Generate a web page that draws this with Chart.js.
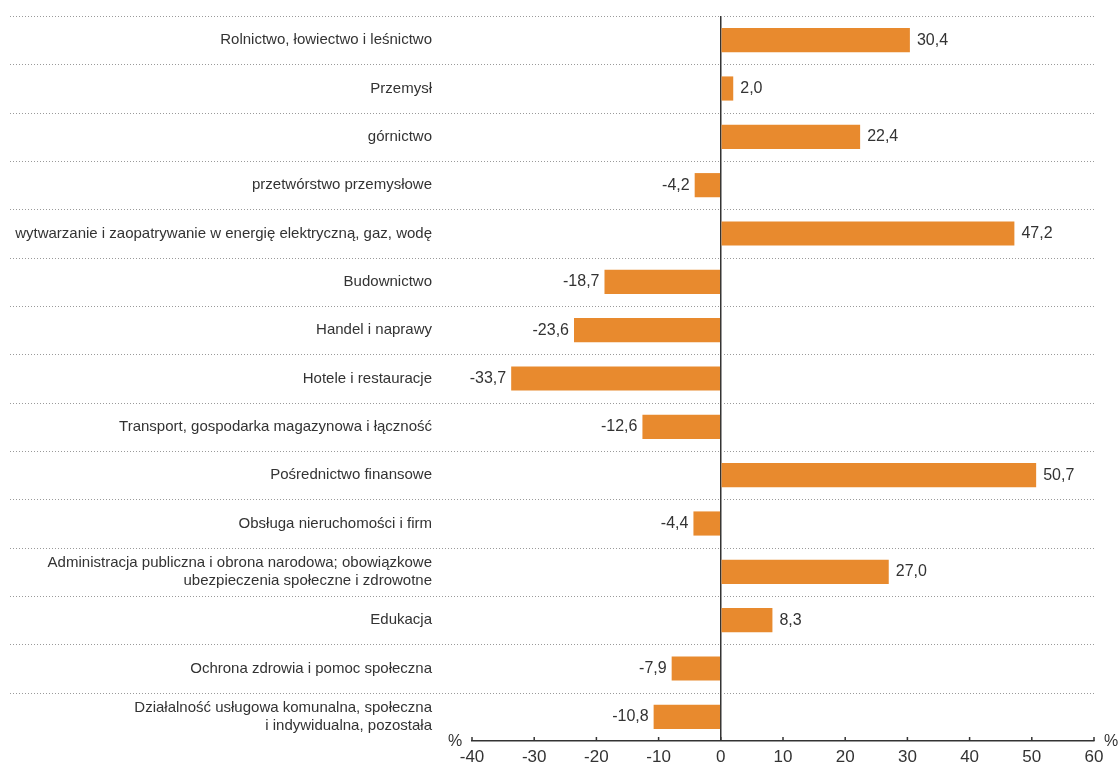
<!DOCTYPE html>
<html>
<head>
<meta charset="utf-8">
<script src="https://cdn.jsdelivr.net/npm/chart.js"></script>
<style>
    body { margin: 0; background: #fff; }
    .wrap { width: 1120px; height: 769px; }
</style>
</head>
<body>
<div class="wrap"><canvas id="chart" width="1120" height="769"></canvas></div>
<script>
// data
const categories = [
    'Rolnictwo, łowiectwo i leśnictwo',
    'Przemysł',
    'górnictwo',
    'przetwórstwo przemysłowe',
    'wytwarzanie i zaopatrywanie w energię elektryczną, gaz, wodę',
    'Budownictwo',
    'Handel i naprawy',
    'Hotele i restauracje',
    'Transport, gospodarka magazynowa i łączność',
    'Pośrednictwo finansowe',
    'Obsługa nieruchomości i firm',
    ['Administracja publiczna i obrona narodowa; obowiązkowe', 'ubezpieczenia społeczne i zdrowotne'],
    'Edukacja',
    'Ochrona zdrowia i pomoc społeczna',
    ['Działalność usługowa komunalna, społeczna', 'i indywidualna, pozostała']
];
const values = [30.4, 2.0, 22.4, -4.2, 47.2, -18.7, -23.6, -33.7, -12.6, 50.7, -4.4, 27.0, 8.3, -7.9, -10.8];
const xMin = -40, xMax = 60, xStep = 10;

const FONT = "'Liberation Sans', Arial, sans-serif";
const TEXT = '#333';
const BAR = '#E88A2E';

const fmt = v => v.toFixed(1).replace('.', ',');

// dotted separators, tick stubs, % labels, value labels
const extras = {
    id: 'extras',
    beforeDatasetsDraw(chart) {
        const { ctx, chartArea, scales: { y } } = chart;
        const band = y.getPixelForValue(1) - y.getPixelForValue(0);
        ctx.save();
        ctx.strokeStyle = '#9a9a9a';
        ctx.lineWidth = 1;
        ctx.setLineDash([1, 2]);
        for (let i = 0; i < categories.length; i++) {
            const py = Math.round(y.getPixelForValue(i) - band / 2) + 0.5;
            ctx.beginPath();
            ctx.moveTo(10, py);
            ctx.lineTo(chartArea.right, py);
            ctx.stroke();
        }
        ctx.restore();
    },
    afterDraw(chart) {
        const { ctx, chartArea, scales: { x } } = chart;
        ctx.save();
        ctx.strokeStyle = TEXT;
        ctx.lineWidth = 1.5;
        x.ticks.forEach(t => {
            const px = x.getPixelForValue(t.value);
            ctx.beginPath();
            ctx.moveTo(px, chartArea.bottom);
            ctx.lineTo(px, chartArea.bottom - 4);
            ctx.stroke();
        });
        ctx.fillStyle = TEXT;
        ctx.font = '16px ' + FONT;
        ctx.textBaseline = 'middle';
        ctx.textAlign = 'center';
        ctx.fillText('%', chartArea.left - 17, chartArea.bottom + 1);
        ctx.textAlign = 'left';
        ctx.fillText('%', chartArea.right + 10, chartArea.bottom + 1);

        const meta = chart.getDatasetMeta(0);
        ctx.font = '16px ' + FONT;
        meta.data.forEach((bar, i) => {
            const v = values[i];
            if (v >= 0) {
                ctx.textAlign = 'left';
                ctx.fillText(fmt(v), bar.x + 7, bar.y);
            } else {
                ctx.textAlign = 'right';
                ctx.fillText(fmt(v), bar.x - 5, bar.y);
            }
        });
        ctx.restore();
    }
};

new Chart(document.getElementById('chart'), {
    type: 'bar',
    data: {
        labels: categories,
        datasets: [{
            data: values,
            backgroundColor: BAR,
            borderWidth: 0,
            barPercentage: 0.5,
            categoryPercentage: 1
        }]
    },
    options: {
        indexAxis: 'y',
        responsive: false,
        animation: false,
        layout: { padding: { top: 16, right: 26, bottom: 0, left: 0 } },
        plugins: { legend: { display: false }, tooltip: { enabled: false } },
        scales: {
            x: {
                min: xMin,
                max: xMax,
                afterFit: s => { s.height = 28; s.paddingLeft = 0; s.paddingRight = 0; },
                ticks: { stepSize: xStep, color: TEXT, padding: 6, font: { family: FONT, size: 17 } },
                grid: {
                    drawTicks: false,
                    color: c => (c.tick && c.tick.value === 0 ? TEXT : 'rgba(0,0,0,0)'),
                    lineWidth: 1.5
                },
                border: { display: true, color: TEXT, width: 1.5 }
            },
            y: {
                afterFit: s => { s.width = 472; s.paddingTop = 0; s.paddingBottom = 0; },
                ticks: { color: TEXT, padding: 40, font: { family: FONT, size: 15 } },
                grid: { display: false, drawTicks: false, tickLength: 0 },
                border: { display: false }
            }
        }
    },
    plugins: [extras]
});
</script>
</body>
</html>
